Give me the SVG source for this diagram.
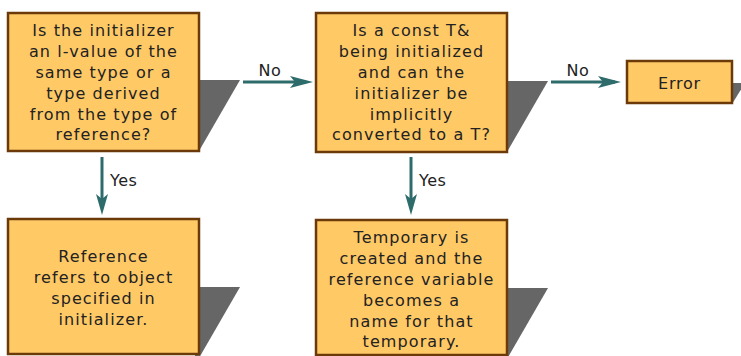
<svg xmlns="http://www.w3.org/2000/svg" width="741" height="356" viewBox="0 0 741 356">
<style>
.box{fill:#FFC966;stroke:#6B3A08;stroke-width:2.5}
.sh{fill:#666666}
.t{font-family:"DejaVu Sans",Verdana,sans-serif;font-size:16px;fill:#222222;text-anchor:middle;letter-spacing:1.1px}
.lbl{font-family:"DejaVu Sans",Verdana,sans-serif;font-size:16px;fill:#222222;letter-spacing:0.5px}
.c{stroke:#2E6B6B;stroke-width:3;fill:none}
.ah{fill:#2E6B6B}
</style>
<rect width="741" height="356" fill="#ffffff"/>
<g id="connectors">
<line class="c" x1="243" y1="82" x2="306" y2="82"/>
<path class="ah" d="M290,76 L313,82 L290,88 L295,82 Z"/>
<text class="lbl" x="270" y="76" text-anchor="middle">No</text>
<line class="c" x1="551" y1="82" x2="615" y2="82"/>
<path class="ah" d="M598,76 L621,82 L598,88 L603,82 Z"/>
<text class="lbl" x="578" y="76" text-anchor="middle">No</text>
<line class="c" x1="102" y1="157" x2="102" y2="208"/>
<path class="ah" d="M96,194 L102,215 L108,194 L102,199 Z"/>
<text class="lbl" x="110" y="186">Yes</text>
<line class="c" x1="411" y1="157" x2="411" y2="208"/>
<path class="ah" d="M405,194 L411,215 L417,194 L411,199 Z"/>
<text class="lbl" x="419" y="186">Yes</text>
</g>
<g id="n1">
<polygon class="sh" points="195,80 240,80 199,151 195,151"/>
<rect class="box" x="8" y="13" width="191" height="138"/>
<text class="t" x="103.5" y="36">Is the initializer</text>
<text class="t" x="103.5" y="57">an l-value of the</text>
<text class="t" x="103.5" y="78">same type or a</text>
<text class="t" x="103.5" y="98.5">type derived</text>
<text class="t" x="103.5" y="119.5">from the type of</text>
<text class="t" x="103.5" y="140">reference?</text>
</g>
<g id="n2">
<polygon class="sh" points="503,81 548,81 507,152 503,152"/>
<rect class="box" x="316" y="13" width="191" height="139"/>
<text class="t" x="411.5" y="36">Is a const T&amp;</text>
<text class="t" x="411.5" y="57">being initialized</text>
<text class="t" x="411.5" y="78">and can the</text>
<text class="t" x="411.5" y="98.5">initializer be</text>
<text class="t" x="411.5" y="119.5">implicitly</text>
<text class="t" x="411.5" y="140">converted to a T?</text>
</g>
<g id="n3">
<polygon class="sh" points="728,83 745,83 732,104 728,104"/>
<rect class="box" x="627" y="61" width="105" height="42"/>
<text class="t" x="679.5" y="88.5" style="letter-spacing:0.8px">Error</text>
</g>
<g id="n4">
<polygon class="sh" points="195,287 240,287 199,358 195,358"/>
<rect class="box" x="8" y="219" width="191" height="135"/>
<text class="t" x="103.5" y="262">Reference</text>
<text class="t" x="103.5" y="283">refers to object</text>
<text class="t" x="103.5" y="304">specified in</text>
<text class="t" x="103.5" y="325">initializer.</text>
</g>
<g id="n5">
<polygon class="sh" points="503,288 548,288 507,359 503,359"/>
<rect class="box" x="316" y="220" width="191" height="135"/>
<text class="t" x="411.5" y="243">Temporary is</text>
<text class="t" x="411.5" y="264">created and the</text>
<text class="t" x="411.5" y="285">reference variable</text>
<text class="t" x="411.5" y="306">becomes a</text>
<text class="t" x="411.5" y="327">name for that</text>
<text class="t" x="411.5" y="347">temporary.</text>
</g>
</svg>
